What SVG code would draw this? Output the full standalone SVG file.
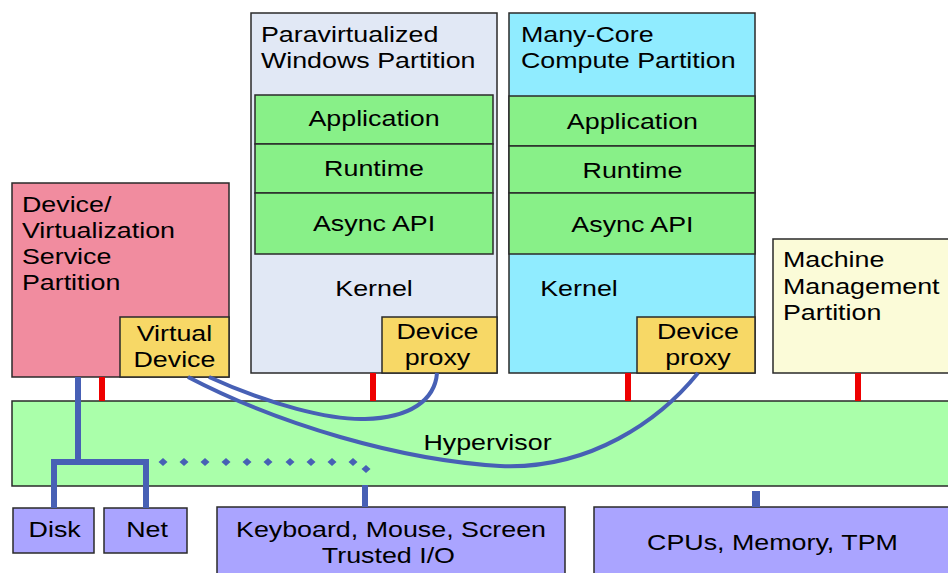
<svg xmlns="http://www.w3.org/2000/svg" width="948" height="573" viewBox="0 0 948 573">
<defs>
<style>
.b{stroke:#2a2a2a;stroke-width:1.5}
.t{font-family:"Liberation Sans",Arial,sans-serif;font-size:22px;fill:#000}
.m{text-anchor:middle}
.red{stroke:#ee0000;stroke-width:6}
.blu{stroke:#4760b5;fill:none}
</style>
<path id="dm" d="M0,-4 L4.5,0 L0,4 L-4.5,0 Z" fill="#4760b5"/>
</defs>
<rect width="948" height="573" fill="#fff"/>

<g id="hypervisor">
<rect x="12" y="401" width="940" height="85" fill="#aaffaa" class="b"/>
<text class="t m" x="399.6" y="450" transform="scale(1.22 1)">Hypervisor</text>
</g>

<g id="dvsp">
<rect x="12" y="183" width="217" height="194" fill="#f18c9f" class="b"/>
<text class="t" transform="scale(1.22 1)"><tspan x="18" y="212">Device/</tspan><tspan x="18" y="238">Virtualization</tspan><tspan x="18" y="264">Service</tspan><tspan x="18" y="290">Partition</tspan></text>
</g>
<g id="virtual-device">
<rect x="120" y="317" width="109" height="60" fill="#f7d866" class="b"/>
<text class="t m" transform="scale(1.22 1)"><tspan x="143" y="341">Virtual</tspan><tspan x="143" y="367">Device</tspan></text>
</g>

<g id="windows">
<rect x="251" y="13" width="246" height="360" fill="#e1e8f5" class="b"/>
<text class="t" transform="scale(1.22 1)"><tspan x="213.9" y="42">Paravirtualized</tspan><tspan x="213.9" y="68">Windows Partition</tspan></text>
<rect x="255" y="95" width="238" height="49" fill="#88f088" class="b"/>
<rect x="255" y="144" width="238" height="49" fill="#88f088" class="b"/>
<rect x="255" y="193" width="238" height="61" fill="#88f088" class="b"/>
<text class="t m" x="306.6" y="126" transform="scale(1.22 1)">Application</text>
<text class="t m" x="306.6" y="176" transform="scale(1.22 1)">Runtime</text>
<text class="t m" x="306.6" y="231" transform="scale(1.22 1)">Async API</text>
<text class="t m" x="306.6" y="296" transform="scale(1.22 1)">Kernel</text>
</g>
<g id="win-proxy">
<rect x="382" y="317" width="115" height="56" fill="#f7d866" class="b"/>
<text class="t m" transform="scale(1.22 1)"><tspan x="358.6" y="339">Device</tspan><tspan x="358.6" y="365">proxy</tspan></text>
</g>

<g id="manycore">
<rect x="509" y="13" width="246" height="360" fill="#90ecff" class="b"/>
<text class="t" transform="scale(1.22 1)"><tspan x="427" y="42">Many-Core</tspan><tspan x="427" y="68">Compute Partition</tspan></text>
<rect x="509" y="96" width="246" height="50" fill="#88f088" class="b"/>
<rect x="509" y="146" width="246" height="47" fill="#88f088" class="b"/>
<rect x="509" y="193" width="246" height="61" fill="#88f088" class="b"/>
<text class="t m" x="518.4" y="129" transform="scale(1.22 1)">Application</text>
<text class="t m" x="518.4" y="178" transform="scale(1.22 1)">Runtime</text>
<text class="t m" x="518.4" y="232" transform="scale(1.22 1)">Async API</text>
<text class="t m" x="474.6" y="296" transform="scale(1.22 1)">Kernel</text>
</g>
<g id="mc-proxy">
<rect x="637" y="317" width="118" height="56" fill="#f7d866" class="b"/>
<text class="t m" transform="scale(1.22 1)"><tspan x="572.1" y="339">Device</tspan><tspan x="572.1" y="365">proxy</tspan></text>
</g>

<g id="mmp">
<rect x="773" y="239" width="180" height="134" fill="#fbfbd8" class="b"/>
<text class="t" transform="scale(1.22 1)"><tspan x="641.8" y="267">Machine</tspan><tspan x="641.8" y="294">Management</tspan><tspan x="641.8" y="320">Partition</tspan></text>
</g>

<g id="disk">
<rect x="13" y="508" width="81" height="45" fill="#aaa4ff" class="b"/>
<text class="t m" x="44.8" y="537" transform="scale(1.22 1)">Disk</text>
</g>
<g id="net">
<rect x="104" y="508" width="83" height="45" fill="#aaa4ff" class="b"/>
<text class="t m" x="120.5" y="537" transform="scale(1.22 1)">Net</text>
</g>
<g id="keyboard">
<rect x="217" y="507" width="348" height="70" fill="#aaa4ff" class="b"/>
<text class="t m" transform="scale(1.22 1)"><tspan x="320.5" y="537">Keyboard, Mouse, Screen</tspan><tspan x="318.4" y="563">Trusted I/O</tspan></text>
</g>
<g id="cpus">
<rect x="594" y="507" width="360" height="70" fill="#aaa4ff" class="b"/>
<text class="t m" x="633.2" y="550" transform="scale(1.22 1)">CPUs, Memory, TPM</text>
</g>

<g id="connectors">
<line class="red" x1="102" y1="377" x2="102" y2="401"/>
<line class="red" x1="373" y1="373" x2="373" y2="401"/>
<line class="red" x1="628" y1="373" x2="628" y2="401"/>
<line class="red" x1="858" y1="373" x2="858" y2="401"/>
<path class="blu" stroke-width="6" d="M78,377 V462 M54,508 V462 H146 V508"/>
<g>
<use href="#dm" x="163" y="462"/><use href="#dm" x="184" y="462"/><use href="#dm" x="205" y="462"/><use href="#dm" x="226" y="462"/><use href="#dm" x="247" y="462"/><use href="#dm" x="268" y="462"/><use href="#dm" x="290" y="462"/><use href="#dm" x="311" y="462"/><use href="#dm" x="332" y="462"/><use href="#dm" x="353" y="462"/><use href="#dm" x="366" y="469"/>
</g>
<line class="blu" stroke-width="6" x1="365" y1="485" x2="365" y2="507"/>
<rect x="752" y="491" width="8" height="16" fill="#4760b5"/>
<path class="blu" stroke-width="4" d="M209,377 C270,405 330,420 365,419 C410,418 435,400 437,373"/>
<path class="blu" stroke-width="4" d="M188,377 C280,425 400,460 500,466 C590,470 660,420 698,373"/>
</g>
</svg>
